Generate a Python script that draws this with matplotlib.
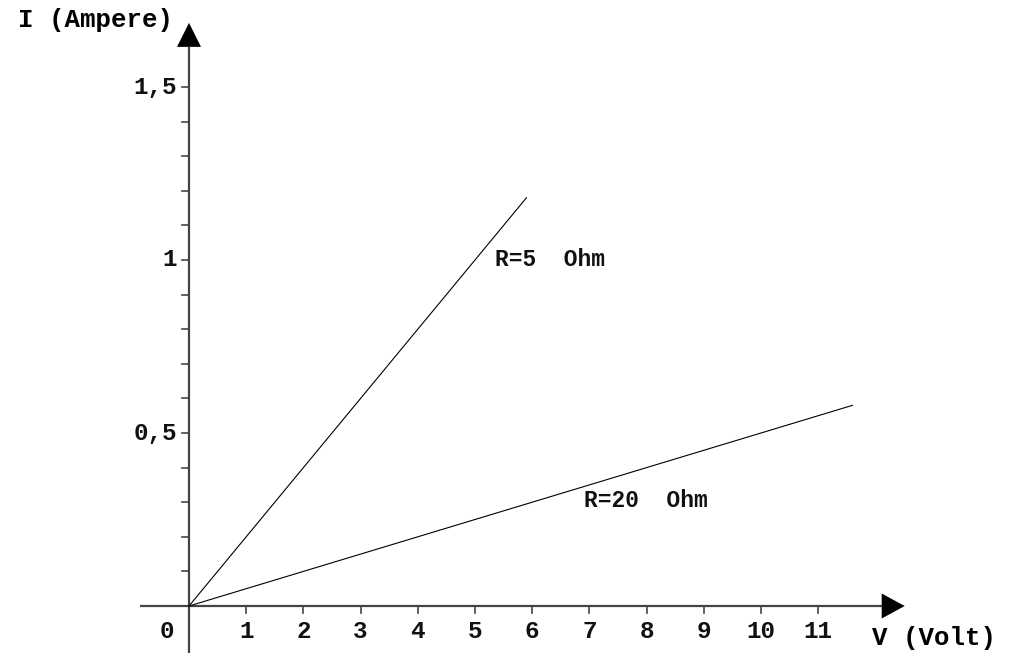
import numpy as np
import matplotlib.pyplot as plt

# Data: I = V / R
resistances = [5, 20]
v_end = [5.9, 11.6]
line_labels = ["R=5  Ohm", "R=20  Ohm"]
label_pos = [(5.35, 1.0), (6.9, 0.305)]

x_ticks = list(range(1, 12))
y_ticks_minor = [0.1 * k for k in range(1, 16)]
y_ticks_major = [0.5, 1.0, 1.5]
y_tick_labels = ["0,5", "1", "1,5"]

# Figure ------------------------------------------------------------
W, H = 1022, 653
fig = plt.figure(figsize=(W / 100, H / 100), dpi=100)
ax = fig.add_axes([0, 0, 1, 1])

px_v = 57.2     # pixels per volt
px_i = 346.0    # pixels per ampere
x0_px, y0_px = 189, 606
xmin = -x0_px / px_v
ymin = -(H - y0_px) / px_i
ax.set_xlim(xmin, xmin + W / px_v)
ax.set_ylim(ymin, ymin + H / px_i)
ax.axis("off")

font = dict(family="Liberation Mono", fontweight="bold", fontsize=17.5, color="#111111")
axis_col = "#444444"

# Axes lines
y_top = 1.616
x_right = 12.11
ax.plot([0, 0], [ymin, y_top], color=axis_col, lw=1.6, solid_capstyle="butt")
ax.plot([-0.857, x_right], [0, 0], color=axis_col, lw=1.6, solid_capstyle="butt")

# Arrow heads
hw_v = 12 / px_v
hh_i = 24 / px_i
ax.fill([-hw_v, hw_v, 0], [y_top, y_top, y_top + hh_i], color="black", lw=0)
hw_i = 12.5 / px_i
hh_v = 23 / px_v
ax.fill([x_right, x_right, x_right + hh_v], [-hw_i, hw_i, 0], color="black", lw=0)

# Ticks
tick_v = 7 / px_v
tick_i = 7 / px_i
for x in x_ticks:
    ax.plot([x, x], [0, -tick_i], color=axis_col, lw=1.2)
    ax.text(x, -26 / px_i, str(x), ha="center", va="center", **font)
for y in y_ticks_minor:
    ax.plot([-tick_v, 0], [y, y], color=axis_col, lw=1.2)
for y, lab in zip(y_ticks_major, y_tick_labels):
    ax.text(-12 / px_v, y, lab, ha="right", va="center", **font)
ax.text(-22 / px_v, -26 / px_i, "0", ha="center", va="center", **font)

# Data lines
for r, v1 in zip(resistances, v_end):
    v = np.array([0, v1])
    ax.plot(v, v / r, color="black", lw=0.8)
for lab, (x, y) in zip(line_labels, label_pos):
    ax.text(x, y, lab, ha="left", va="center", fontsize=16.5,
            family="Liberation Mono", fontweight="bold", color="#111111")

# Axis titles
ax.text(xmin + 18 / px_v, ymin + (H - 20) / px_i, "I (Ampere)", ha="left",
        va="center", fontsize=18.5, family="Liberation Mono", fontweight="bold")
ax.text(xmin + 872 / px_v, ymin + (H - 638) / px_i, "V (Volt)", ha="left",
        va="center", fontsize=18.5, family="Liberation Mono", fontweight="bold")

plt.savefig("out.png", dpi=100)
